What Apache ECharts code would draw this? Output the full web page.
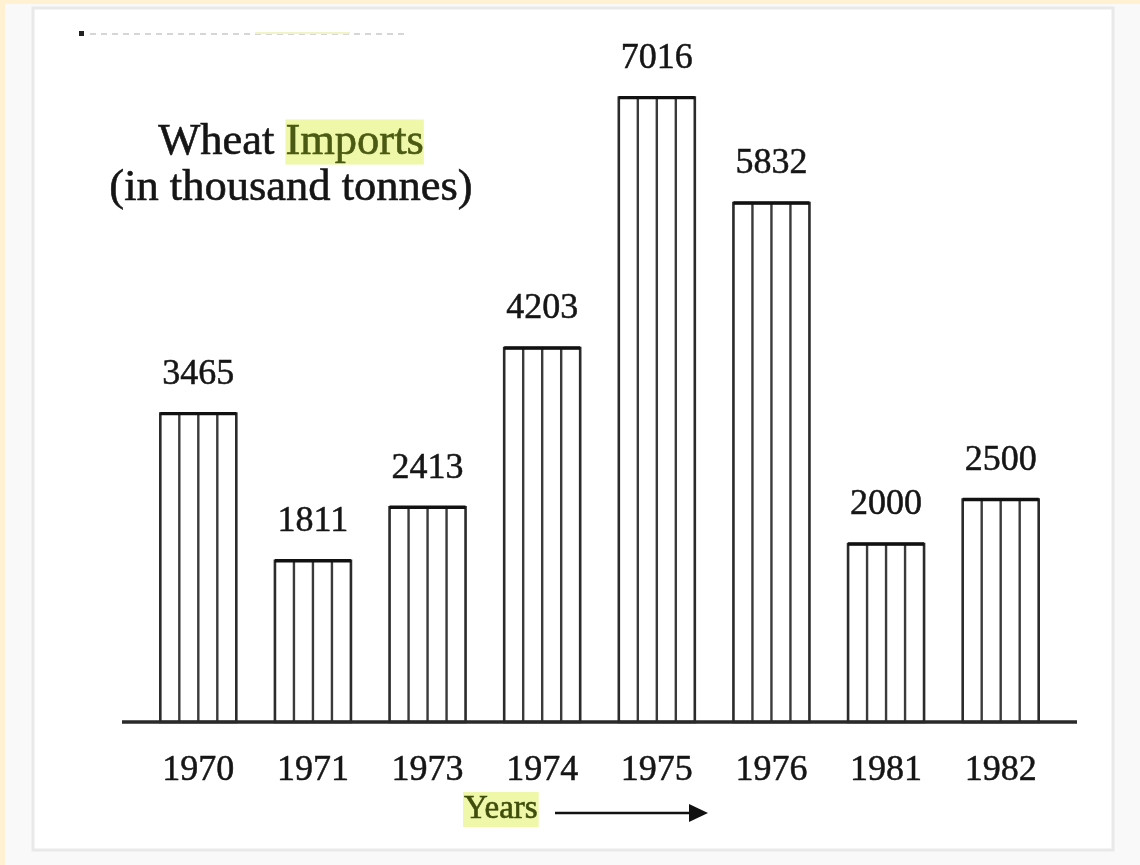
<!DOCTYPE html>
<html><head><meta charset="utf-8">
<script src="https://cdn.jsdelivr.net/npm/echarts@6/dist/echarts.min.js"></script>
<style>html,body{margin:0;padding:0;background:#fff;}#chart{width:1140px;height:865px;}</style>
</head><body><div id="chart"></div>
<script>
// ---- data ----
const years = ['1970', '1971', '1973', '1974', '1975', '1976', '1981', '1982'];
const imports = [3465, 1811, 2413, 4203, 7016, 5832, 2000, 2500];
const titleWord1 = 'Wheat ';
const titleWord2 = 'Imports';
const titleLine2 = '(in thousand tonnes)';
const axisName = 'Years';
const yMin = 0;
const yMax = 8000;

// ---- chart ----
const serif = '"Liberation Serif", "DejaVu Serif", serif';
const BASE_Y = 722;
const chart = echarts.init(document.getElementById('chart'), null, { renderer: 'canvas' });

const seriesData = imports.map((v, i) => [i, v]);

const option = {
  backgroundColor: '#f9f9f9',
  animation: false,
  grid: { left: 141, right: 82, top: 10, bottom: 865 - BASE_Y },
  xAxis: {
    type: 'category',
    data: years,
    axisLine: { show: false },
    axisTick: { show: false },
    axisLabel: { fontFamily: serif, fontSize: 36, color: '#151515', margin: 31,
      textBorderColor: '#151515', textBorderWidth: 0.5 }
  },
  yAxis: { type: 'value', min: yMin, max: yMax, interval: 1000, show: false },
  graphic: [
    { type: 'rect', z: -10, shape: { x: 0, y: 0, width: 1140, height: 4 }, style: { fill: '#fff1d2' } },
    { type: 'rect', z: -10, shape: { x: 0, y: 0, width: 5, height: 865 }, style: { fill: '#fff1d2' } },
    { type: 'rect', z: -9, shape: { x: 33, y: 8, width: 1080, height: 842 },
      style: { fill: '#ffffff', stroke: '#e9e9e9', lineWidth: 3 } },
    // faint crop artifact at top-left
    { type: 'rect', z: -8, shape: { x: 79, y: 31, width: 5, height: 5 }, style: { fill: '#222' } },
    { type: 'line', z: -8, shape: { x1: 90, y1: 34, x2: 405, y2: 34 },
      style: { stroke: '#d6d6d6', lineWidth: 2, lineDash: [6, 5] } },
    { type: 'line', z: -8, shape: { x1: 255, y1: 33, x2: 350, y2: 33 },
      style: { stroke: '#f3f3c8', lineWidth: 2 } },
    // title
    { type: 'text', z: 50, x: 291, y: 119,
      style: {
        text: titleWord1 + '{hl|' + titleWord2 + '}\n' + titleLine2,
        align: 'center', verticalAlign: 'top',
        font: '44.5px ' + serif, fill: '#151515', lineHeight: 46,
        stroke: '#151515', lineWidth: 0.6,
        rich: { hl: { font: '44.5px ' + serif, fill: '#4b5a12', backgroundColor: '#eff8a8', lineHeight: 46,
          stroke: '#4b5a12', lineWidth: 0.6, borderWidth: 0, borderColor: 'transparent' } }
      } },
    // baseline
    { type: 'line', z: 100, shape: { x1: 122, y1: BASE_Y, x2: 1077, y2: BASE_Y },
      style: { stroke: '#2a2a2a', lineWidth: 3.5 } },
    // axis name + arrow
    { type: 'text', z: 50, x: 463, y: 792,
      style: { text: axisName, font: '33px ' + serif, fill: '#3f4d0c', backgroundColor: '#eff8a8',
        padding: [1, 1, 1, 1], stroke: '#3f4d0c', lineWidth: 0.6, borderWidth: 0, borderColor: 'transparent' } },
    { type: 'line', z: 50, shape: { x1: 555, y1: 813, x2: 696, y2: 813 }, style: { stroke: '#111', lineWidth: 2.5 } },
    { type: 'polygon', z: 50, shape: { points: [[689, 804], [708, 813], [689, 822]] }, style: { fill: '#111' } }
  ],
  series: [{
    type: 'custom',
    data: seriesData,
    encode: { x: 0, y: 1 },
    renderItem: function (params, api) {
      const top = api.coord([api.value(0), api.value(1)]);
      const base = api.coord([api.value(0), 0]);
      const band = api.size([1, 0])[0];
      const w = band * 0.663;
      const x0 = top[0] - w / 2;
      const y0 = top[1];
      const h = base[1] - top[1];
      const children = [
        { type: 'rect', shape: { x: x0, y: y0, width: w, height: h },
          style: { fill: '#ffffff', stroke: '#2b2b2b', lineWidth: 2.6 } }
      ];
      for (let k = 1; k < 4; k++) {
        const lx = x0 + w * k / 4;
        children.push({ type: 'line', shape: { x1: lx, y1: y0, x2: lx, y2: base[1] },
          style: { stroke: '#3a3a3a', lineWidth: 2.4 } });
      }
      children.push({ type: 'line', shape: { x1: x0, y1: y0, x2: x0 + w, y2: y0 },
        style: { stroke: '#111', lineWidth: 3.4 } });
      children.push({ type: 'text', x: top[0], y: y0 - 21,
        style: { text: String(api.value(1)), align: 'center', verticalAlign: 'bottom',
          font: '36px ' + serif, fill: '#151515', stroke: '#151515', lineWidth: 0.5 } });
      return { type: 'group', children: children };
    }
  }]
};
chart.setOption(option);
</script>
</body></html>
